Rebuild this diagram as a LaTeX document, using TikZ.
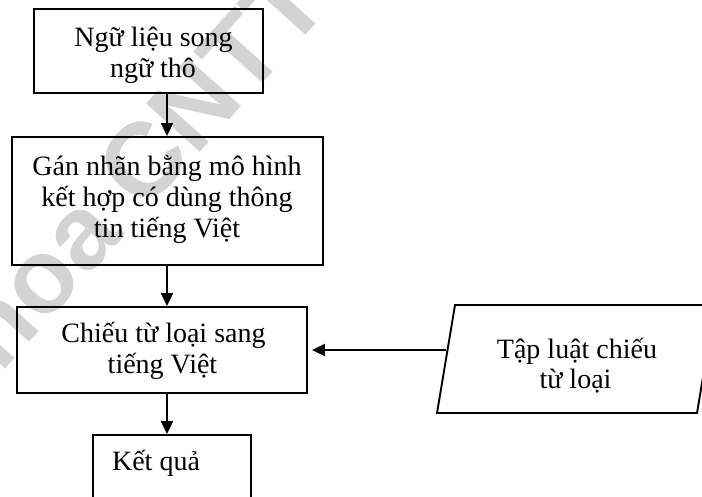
\documentclass[tikz,border=0pt]{standalone}
\usepackage{fontspec}
\setmainfont{Liberation Serif}
\newfontfamily\wmfont{Liberation Sans}
\usetikzlibrary{arrows.meta}
\definecolor{wmgray}{RGB}{211,211,211}
\begin{document}
\begin{tikzpicture}[x=1pt,y=-1pt,
  box/.style={draw,line width=1.9pt,inner sep=0pt},
  lbl/.style={font=\fontsize{28}{31}\selectfont,anchor=base,inner sep=0pt},
  arr/.style={line width=1.9pt,-{Triangle[length=13pt,width=12pt]}}]
\useasboundingbox (0,0) rectangle (702,496);
\clip (0,0) rectangle (702,496);

% background watermark
\node[rotate=48,text=wmgray,inner sep=0pt,
      font=\wmfont\bfseries\fontsize{105}{105}\selectfont] (wm) at (113,193) {Khoa CNTT};

% process boxes
\node[box,minimum width=229pt,minimum height=84pt]  (b1) at (148.5,51) {};
\node[box,minimum width=311pt,minimum height=128pt] (b2) at (167.5,201) {};
\node[box,minimum width=290pt,minimum height=86pt]  (b3) at (162,350) {};
\node[box,minimum width=158pt,minimum height=90pt]  (b4) at (172,480) {};

% input data (parallelogram)
\draw[line width=1.9pt] (455,305) -- (715,305) -- (697,413) -- (437,413) -- cycle;
\coordinate (pin) at (446,350);

% labels
\node[lbl] (t1a) at (153.5,46) {Ngữ liệu song};
\node[lbl] (t1b) at (153,77) {ngữ thô};
\node[lbl] (t2a) at (167,175) {Gán nhãn bằng mô hình};
\node[lbl] (t2b) at (167,206) {kết hợp có dùng thông};
\node[lbl] (t2c) at (167,237) {tin tiếng Việt};
\node[lbl] (t3a) at (163.5,342) {Chiếu từ loại sang};
\node[lbl] (t3b) at (162.5,373) {tiếng Việt};
\node[lbl] (t4)  at (156,470) {Kết quả};
\node[lbl] (t5a) at (577,358) {Tập luật chiếu};
\node[lbl] (t5b) at (575.5,388) {từ loại};

% connectors
\coordinate (ax) at (167,0);
\draw[arr] (b1.south -| ax) -- (b2.north -| ax);
\draw[arr] (b2.south -| ax) -- (b3.north -| ax);
\draw[arr] (b3.south -| ax) -- (b4.north -| ax);
\draw[arr,shorten >=4pt] (pin) -- (b3.east |- pin);
\end{tikzpicture}
\end{document}
